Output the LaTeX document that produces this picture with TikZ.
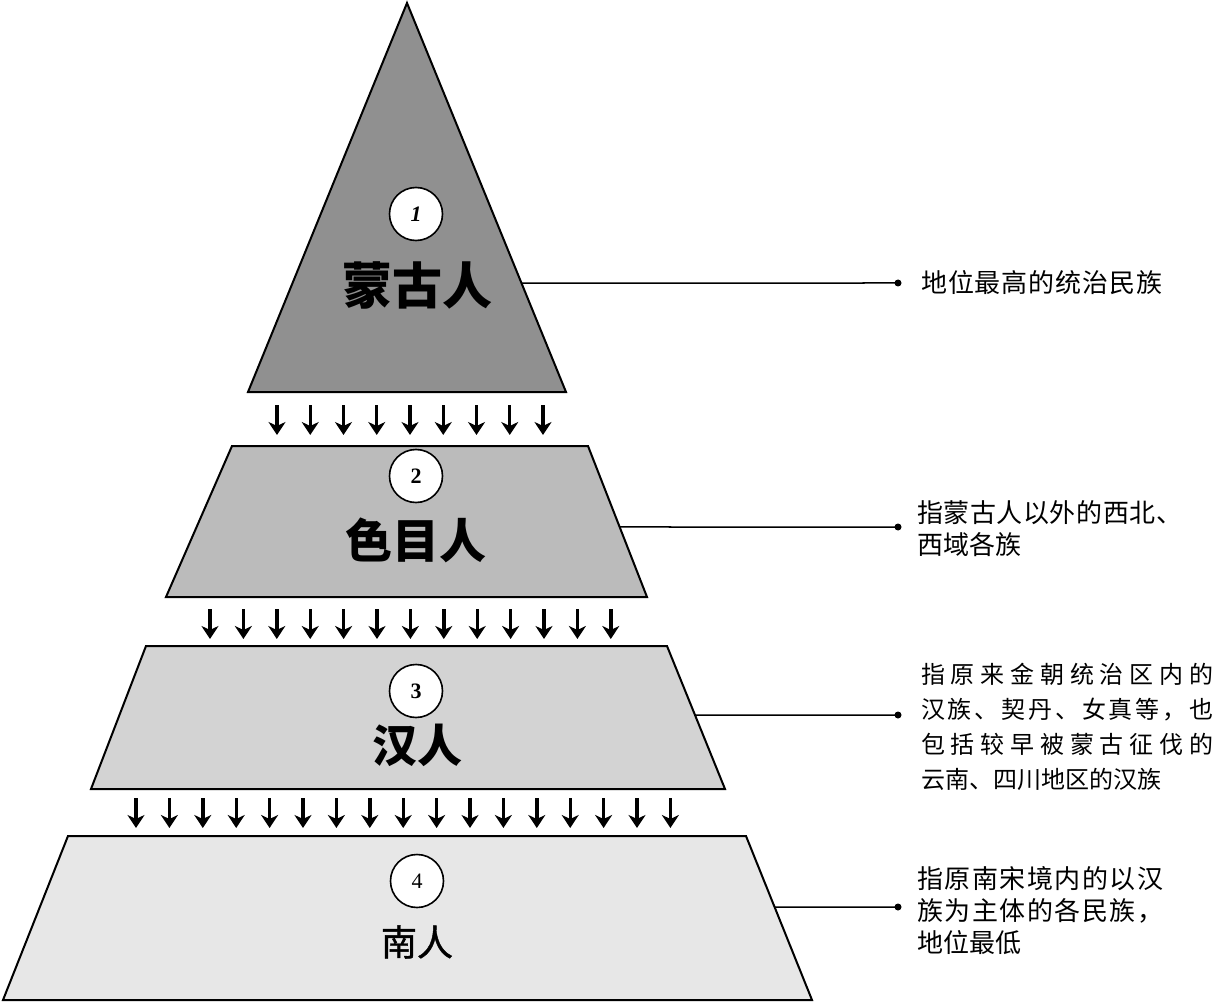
\documentclass[tikz,border=0pt]{standalone}
\usepackage{fontspec}
\newfontfamily\cjk{Noto Sans CJK SC}
\newfontfamily\cjkmed[FakeBold=1.2]{Noto Sans CJK SC}
\newfontfamily\numf{Liberation Serif}
\usetikzlibrary{arrows.meta,calc}
\definecolor{c1}{HTML}{909090}
\definecolor{c2}{HTML}{BBBBBB}
\definecolor{c3}{HTML}{D3D3D3}
\definecolor{c4}{HTML}{E7E7E7}
\def\jl#1{#1\jlnext}
\def\jlnext#1{\ifx\relax#1\else\hfil#1\expandafter\jlnext\fi}
\newcommand\jline[2]{\makebox[#1][s]{\jl#2\relax}}
\begin{document}
\begin{tikzpicture}[x=1pt,y=-1pt,
  layer/.style={draw=black,line width=2pt,line join=miter},
  num/.style={circle,draw=black,line width=1.6pt,fill=white,minimum size=53pt,inner sep=0pt},
  lab/.style={inner sep=0pt},
  desc/.style={inner sep=0pt,anchor=west,align=left},
  conn/.style={line width=1.5pt},
  dot/.style={circle,fill=black,inner sep=0pt,minimum size=7pt},
  down/.style={line width=3.4pt,-{Stealth[length=13pt,width=17pt,inset=4pt]}}]
\useasboundingbox (0,0) rectangle (1227,1003);
\fill[white] (0,0) rectangle (1227,1003);

% layer shapes
\coordinate (apex) at (407,3);
\coordinate (t1l) at (248,392); \coordinate (t1r) at (566,392);
\filldraw[layer,fill=c1] (apex) -- (t1r) -- (t1l) -- cycle;

\coordinate (t2a) at (232,446); \coordinate (t2b) at (588,446);
\coordinate (t2c) at (647,597); \coordinate (t2d) at (166,597);
\filldraw[layer,fill=c2] (t2a) -- (t2b) -- (t2c) -- (t2d) -- cycle;

\coordinate (t3a) at (146,646); \coordinate (t3b) at (667,646);
\coordinate (t3c) at (725,789); \coordinate (t3d) at (91,789);
\filldraw[layer,fill=c3] (t3a) -- (t3b) -- (t3c) -- (t3d) -- cycle;

\coordinate (t4a) at (68,836); \coordinate (t4b) at (746,836);
\coordinate (t4c) at (812,1000); \coordinate (t4d) at (3,1000);
\filldraw[layer,fill=c4] (t4a) -- (t4b) -- (t4c) -- (t4d) -- cycle;

% arrows between layers
\foreach \i in {0,...,8}{
  \coordinate (ua\i) at (277+33.25*\i,405);
  \coordinate (va\i) at (277+33.25*\i,435);
  \draw[down] (ua\i) -- (va\i);
}
\foreach \i in {0,...,12}{
  \coordinate (ub\i) at (210+33.4*\i,609);
  \coordinate (vb\i) at (210+33.4*\i,639);
  \draw[down] (ub\i) -- (vb\i);
}
\foreach \i in {0,...,16}{
  \coordinate (uc\i) at (136+33.4*\i,798);
  \coordinate (vc\i) at (136+33.4*\i,828);
  \draw[down] (uc\i) -- (vc\i);
}

% numbered circles and names
\node[num,font=\numf\bfseries\itshape\fontsize{22}{22}\selectfont] (n1) at (416,214) {1};
\node[lab,font=\cjk\bfseries\fontsize{50}{50}\selectfont] (l1) at (417,285) {蒙古人};
\node[num,font=\numf\bfseries\fontsize{22}{22}\selectfont] (n2) at (416,476) {2};
\node[lab,font=\cjk\bfseries\fontsize{47}{47}\selectfont] (l2) at (416,540) {色目人};
\node[num,font=\numf\bfseries\fontsize{22}{22}\selectfont] (n3) at (416,691) {3};
\node[lab,font=\cjk\bfseries\fontsize{45}{45}\selectfont] (l3) at (417,745) {汉人};
\node[num,font=\numf\fontsize{22}{22}\selectfont] (n4) at (417,881) {4};
\node[lab,font=\cjkmed\fontsize{36}{36}\selectfont] (l4) at (417,942) {南人};

% connector points on edges
\coordinate (e1) at ($(apex)!0.7198!(t1r)$);
\coordinate (e2) at ($(t2b)!0.5364!(t2c)$);
\coordinate (e3) at ($(t3b)!0.4825!(t3c)$);
\coordinate (e4) at ($(t4b)!0.4329!(t4c)$);
\node[dot] (d1) at (898,283) {};
\node[dot] (d2) at (898,527) {};
\node[dot] (d3) at (898,715) {};
\node[dot] (d4) at (898,907) {};
\draw[conn] (e1) -- (d1.center);
\draw[conn] (e2) -- (d2.center);
\draw[conn] (e3) -- (d3.center);
\draw[conn] (e4) -- (d4.center);

% descriptions
\node[desc,font=\cjk\fontsize{26}{32}\selectfont] (x1) at (921,283)
  {\jline{241pt}{地位最高的统治民族}};
\node[desc,font=\cjk\fontsize{26}{32}\selectfont] (x2) at (917,529)
  {\jline{265pt}{指蒙古人以外的西北、}\\西域各族};
\node[desc,font=\cjk\fontsize{24}{35}\selectfont] (x3) at (921,727)
  {\jline{292pt}{指原来金朝统治区内的}\\
   \jline{292pt}{汉族、契丹、女真等，也}\\
   \jline{292pt}{包括较早被蒙古征伐的}\\
   云南、四川地区的汉族};
\node[desc,font=\cjk\fontsize{26}{32}\selectfont] (x4) at (917,911)
  {\jline{246pt}{指原南宋境内的以汉}\\
   \jline{246pt}{族为主体的各民族，}\\
   地位最低};
\end{tikzpicture}
\end{document}
